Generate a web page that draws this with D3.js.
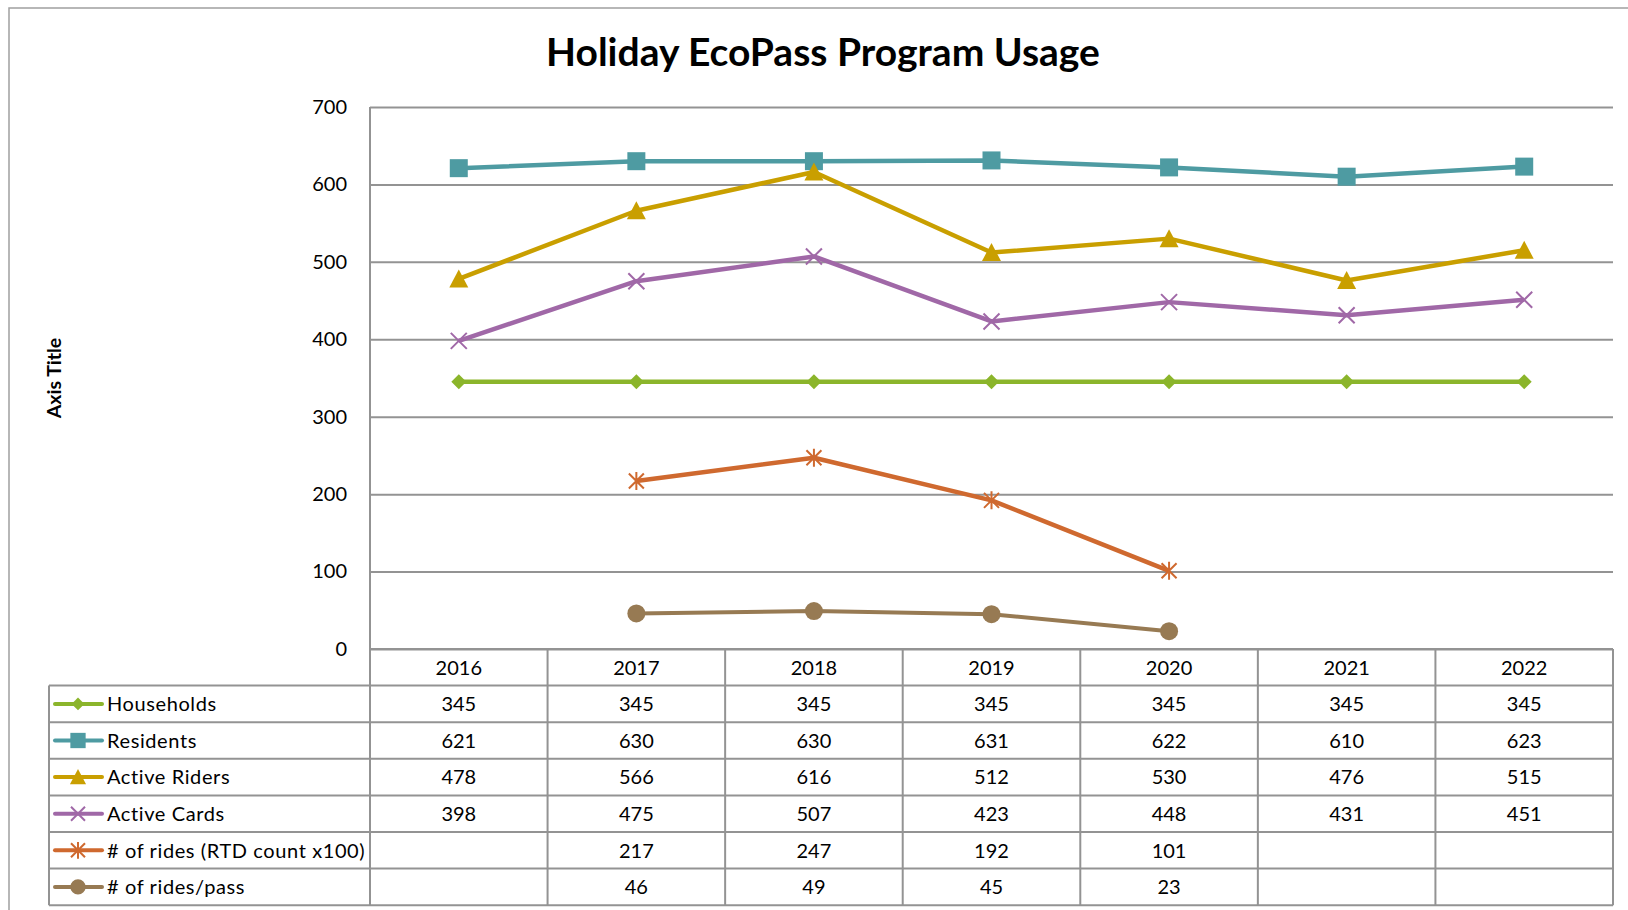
<!DOCTYPE html>
<html>
<head>
<meta charset="utf-8">
<script src="https://cdn.jsdelivr.net/npm/d3@7"></script>
<style>
  html, body { margin:0; padding:0; background:#fff; }
  svg { display:block; font-family: Lato, "Open Sans", sans-serif; }
</style>
</head>
<body>
<div id="chart"></div>
<script>
const years       = ["2016","2017","2018","2019","2020","2021","2022"];
const households  = [345, 345, 345, 345, 345, 345, 345];
const residents   = [621, 630, 630, 631, 622, 610, 623];
const riders      = [478, 566, 616, 512, 530, 476, 515];
const cards       = [398, 475, 507, 423, 448, 431, 451];
const rides       = [null, 217, 247, 192, 101, null, null];
const ridesPass   = [null, 46, 49, 45, 23, null, null];
const yTicks      = [0, 100, 200, 300, 400, 500, 600, 700];

const seriesNames = ["Households","Residents","Active Riders","Active Cards","# of rides (RTD count x100)","# of rides/pass"];
const seriesVals  = [households, residents, riders, cards, rides, ridesPass];
const seriesColor = ["#8bb52b","#4e9ba2","#c99f00","#a068a7","#cf692f","#977a53"];
const seriesMark  = ["diamond","square","triangle","x","star","circle"];

const CFG = {
  w: 1628, h: 910,
  plot: { left: 370, right: 1613, top: 107, bottom: 649 },
  legendLeft: 49,
  rowH: 36.6,
  grid: "#939393",
  txt: "#000"
};

// Marker-Pfade
function markerPath(type, s){
  const h = s/2;
  switch(type){
    case "diamond":  return `M0,${-h}L${h},0L0,${h}L${-h},0Z`;
    case "square":   return `M${-h},${-h}H${h}V${h}H${-h}Z`;
    case "triangle": return `M0,${-h}L${h},${h*0.9}L${-h},${h*0.9}Z`;
    case "circle":   return `M${-h},0A${h},${h} 0 1,0 ${h},0A${h},${h} 0 1,0 ${-h},0Z`;
    case "x":        return `M${-h},${-h}L${h},${h}M${-h},${h}L${h},${-h}`;
    case "star":     return `M${-h},${-h}L${h},${h}M${-h},${h}L${h},${-h}M0,${-h*1.2}V${h*1.2}`;
  }
}
const markSize = { diamond:15, square:18, triangle:19, circle:18, x:16, star:15 };
const isStroke = t => t === "x" || t === "star";

const svg = d3.select("#chart").append("svg").attr("width", CFG.w).attr("height", CFG.h);
const P = CFG.plot;

// Rahmen
svg.append("rect").attr("x", 9).attr("y", 8).attr("width", 1660).attr("height", 940)
  .attr("fill", "none").attr("stroke", "#a0a0a0").attr("stroke-width", 1.5);

// Titel
svg.append("text").attr("x", 823).attr("y", 66).attr("text-anchor", "middle")
  .attr("font-size", 39).attr("font-weight", 700).attr("fill", CFG.txt)
  .text("Holiday EcoPass Program Usage");

// Achsentitel
svg.append("text").attr("transform", "translate(61,378) rotate(-90)")
  .attr("text-anchor", "middle").attr("font-size", 19.5).attr("font-weight", 700)
  .text("Axis Title");

const x = d3.scaleBand().domain(years).range([P.left, P.right]);
const y = d3.scaleLinear().domain([0, 700]).range([P.bottom, P.top]);
const cx = d => x(d) + x.bandwidth()/2;

// Y-Achse mit Gitterlinien
const yAxis = svg.append("g").attr("transform", `translate(${P.left},0)`)
  .call(d3.axisLeft(y).tickValues(yTicks).tickSize(-(P.right - P.left)).tickPadding(23));
yAxis.select(".domain").remove();
yAxis.selectAll(".tick line").attr("stroke", CFG.grid).attr("stroke-width", 2);
yAxis.selectAll(".tick text").attr("font-size", 20).attr("font-family", "Lato, sans-serif").attr("fill", CFG.txt);

// Datentabelle
const tTop = P.bottom;
const hdrBottom = tTop + CFG.rowH;
const tBottom = hdrBottom + CFG.rowH * seriesNames.length;
const tbl = svg.append("g").attr("stroke", CFG.grid).attr("stroke-width", 2);
// horizontale Linien
tbl.append("line").attr("x1", P.left).attr("x2", P.right).attr("y1", tTop).attr("y2", tTop);
d3.range(seriesNames.length + 1).forEach(i => {
  const yy = hdrBottom + i*CFG.rowH;
  tbl.append("line").attr("x1", CFG.legendLeft).attr("x2", P.right).attr("y1", yy).attr("y2", yy);
});
// vertikale Linien
tbl.append("line").attr("x1", CFG.legendLeft).attr("x2", CFG.legendLeft).attr("y1", hdrBottom).attr("y2", tBottom);
tbl.append("line").attr("x1", P.left).attr("x2", P.left).attr("y1", P.top).attr("y2", tBottom);
years.forEach(yr => {
  const xx = x(yr) + x.bandwidth();
  tbl.append("line").attr("x1", xx).attr("x2", xx).attr("y1", tTop).attr("y2", tBottom);
});

// Kopfzeile (Jahre)
svg.append("g").selectAll("text").data(years).join("text")
  .attr("x", d => cx(d)).attr("y", tTop + CFG.rowH/2).attr("dy", "0.36em")
  .attr("text-anchor", "middle").attr("font-size", 20).text(d => d);

// Zeilen: Legende + Werte
seriesNames.forEach((name, i) => {
  const rowY = hdrBottom + i*CFG.rowH + CFG.rowH/2;
  const col = seriesColor[i], mk = seriesMark[i];
  const lg = svg.append("g");
  lg.append("line").attr("x1", 55).attr("x2", 102).attr("y1", rowY).attr("y2", rowY)
    .attr("stroke", col).attr("stroke-width", 4).attr("stroke-linecap", "round");
  lg.append("path").attr("transform", `translate(78,${rowY})`)
    .attr("d", markerPath(mk, isStroke(mk) ? 14 : markSize[mk]*0.85))
    .attr("fill", isStroke(mk) ? "none" : col).attr("stroke", col)
    .attr("stroke-width", isStroke(mk) ? 2 : 0);
  lg.append("text").attr("x", 107).attr("y", rowY).attr("dy", "0.36em")
    .attr("font-size", 20).attr("letter-spacing", 0.6).text(name);

  svg.append("g").selectAll("text").data(seriesVals[i].map((v, j) => ({ v, yr: years[j] })).filter(d => d.v != null))
    .join("text").attr("x", d => cx(d.yr)).attr("y", rowY).attr("dy", "0.36em")
    .attr("text-anchor", "middle").attr("font-size", 20).text(d => d.v);
});

// Linien + Marker
const line = d3.line().defined(d => d.v != null).x(d => cx(d.yr)).y(d => y(d.v));
seriesNames.forEach((name, i) => {
  const pts = seriesVals[i].map((v, j) => ({ v, yr: years[j] }));
  const col = seriesColor[i], mk = seriesMark[i];
  svg.append("path").datum(pts).attr("d", line)
    .attr("fill", "none").attr("stroke", col)
    .attr("stroke-width", i === 5 ? 4 : 4.5).attr("stroke-linejoin", "round");
  svg.append("g").selectAll("path").data(pts.filter(d => d.v != null)).join("path")
    .attr("transform", d => `translate(${cx(d.yr)},${y(d.v)})`)
    .attr("d", markerPath(mk, markSize[mk]))
    .attr("fill", isStroke(mk) ? "none" : col).attr("stroke", col)
    .attr("stroke-width", isStroke(mk) ? 2 : 0);
});
</script>
</body>
</html>
